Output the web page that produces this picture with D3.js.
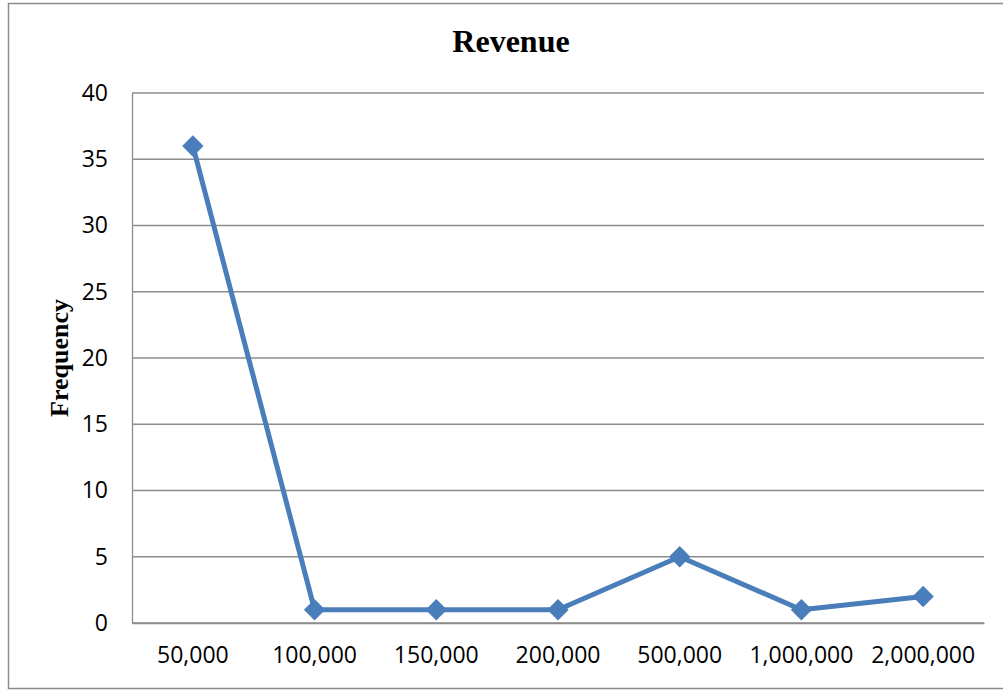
<!DOCTYPE html>
<html>
<head>
<meta charset="utf-8">
<script src="https://cdn.jsdelivr.net/npm/d3@7"></script>
<style>
	body { margin: 0; background: #fff; }
	svg { display: block; }
</style>
</head>
<body>
<div id="chart"></div>
<script>
	'use strict';
	// data
	var categories = ['50,000', '100,000', '150,000', '200,000', '500,000', '1,000,000', '2,000,000'];
	var frequency = [36, 1, 1, 1, 5, 1, 2];
	var yTicks = [0, 5, 10, 15, 20, 25, 30, 35, 40];

	var width = 1003, height = 690;
	var margin = {top: 93, right: 19, bottom: 67, left: 132};

	var svg = d3.select('#chart')
		.append('svg')
		.attr('width', width)
		.attr('height', height);

	// outer chart frame
	svg.append('rect')
		.attr('x', 8.5)
		.attr('y', 3.5)
		.attr('width', width)
		.attr('height', height - 5)
		.attr('fill', 'none')
		.attr('stroke', '#8c8c8c')
		.attr('stroke-width', 1.5);

	var x = d3.scaleBand()
		.domain(categories)
		.range([margin.left, width - margin.right]);

	var y = d3.scaleLinear()
		.domain([0, 40])
		.range([height - margin.bottom, margin.top]);

	// horizontal gridlines
	svg.append('g')
		.selectAll('line')
		.data(yTicks)
		.enter()
		.append('line')
		.attr('x1', margin.left)
		.attr('x2', width - margin.right)
		.attr('y1', function (d) { return y(d); })
		.attr('y2', function (d) { return y(d); })
		.attr('stroke', '#8c8c8c')
		.attr('stroke-width', 1.3);

	// y axis
	var yAxis = svg.append('g')
		.attr('transform', 'translate(' + margin.left + ',0)')
		.call(d3.axisLeft(y).tickValues(yTicks).tickSize(0).tickPadding(24));
	yAxis.select('.domain').attr('stroke', '#8c8c8c').attr('stroke-width', 1.3);
	yAxis.selectAll('text')
		.attr('font-family', 'Open Sans, sans-serif')
		.attr('font-size', 23)
		.attr('fill', '#000');

	// x axis
	var xAxis = svg.append('g')
		.attr('transform', 'translate(0,' + (height - margin.bottom) + ')')
		.call(d3.axisBottom(x).tickSize(0).tickPadding(24));
	xAxis.select('.domain').attr('stroke', '#8c8c8c').attr('stroke-width', 1.3);
	xAxis.selectAll('text')
		.attr('font-family', 'Open Sans, sans-serif')
		.attr('font-size', 23)
		.attr('fill', '#000');

	// series line
	var line = d3.line()
		.x(function (d, i) { return x(categories[i]) + x.bandwidth() / 2; })
		.y(function (d) { return y(d); });

	svg.append('path')
		.datum(frequency)
		.attr('fill', 'none')
		.attr('stroke', '#4a7ebb')
		.attr('stroke-width', 5)
		.attr('stroke-linejoin', 'round')
		.attr('d', line);

	// diamond markers
	var diamond = d3.symbol().type(d3.symbolDiamond2).size(290);
	svg.append('g')
		.selectAll('path')
		.data(frequency)
		.enter()
		.append('path')
		.attr('d', diamond)
		.attr('transform', function (d, i) {
			return 'translate(' + (x(categories[i]) + x.bandwidth() / 2) + ',' + y(d) + ')';
		})
		.attr('fill', '#4a7ebb');

	// title
	svg.append('text')
		.attr('x', 511)
		.attr('y', 52)
		.attr('text-anchor', 'middle')
		.attr('font-family', 'Liberation Serif, serif')
		.attr('font-weight', 'bold')
		.attr('font-size', 32)
		.text('Revenue');

	// y axis title
	svg.append('text')
		.attr('transform', 'translate(68,' + 358 + ') rotate(-90)')
		.attr('text-anchor', 'middle')
		.attr('font-family', 'Liberation Serif, serif')
		.attr('font-weight', 'bold')
		.attr('font-size', 26)
		.text('Frequency');
</script>
</body>
</html>
